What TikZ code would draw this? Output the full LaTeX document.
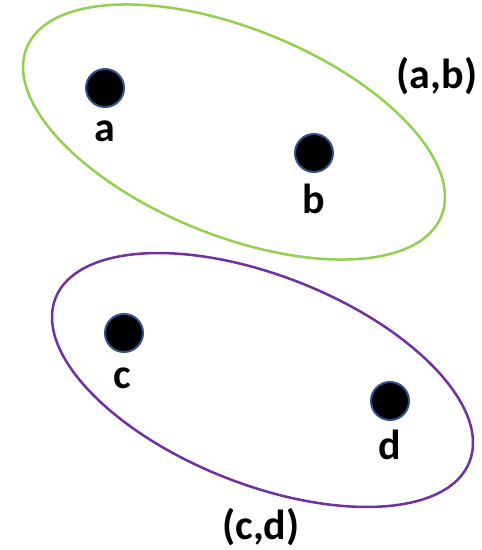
\documentclass[tikz,border=0pt]{standalone}
\usepackage{fontspec}
\setmainfont{Carlito}
\definecolor{grn}{HTML}{92D050}
\definecolor{prp}{HTML}{7030A0}
\definecolor{dotedge}{HTML}{2F528F}
\begin{document}
\begin{tikzpicture}[x=1pt,y=1pt,
  dot/.style={circle,fill=black,draw=dotedge,line width=2pt,minimum size=38pt,inner sep=0pt},
  lbl/.style={inner sep=0pt,font=\fontsize{42}{48}\selectfont\bfseries},
  grp/.style={line width=2.5pt}]
\useasboundingbox (0,0) rectangle (482,-550);
\draw[grp,draw=grn,rotate around={-22.1:(234,-132)}] (234,-132) ellipse [x radius=223.8, y radius=103.4];
\draw[grp,draw=prp,rotate around={-21.6:(262.5,-380)}] (262.5,-380) ellipse [x radius=222.6, y radius=104.3];
\node[dot] (a) at (105,-88) {};
\node[dot] (b) at (314,-153) {};
\node[dot] (c) at (124,-333) {};
\node[dot] (d) at (390,-401) {};
\node[lbl] (la) at (105,-131) {a};
\node[lbl] (lb) at (314,-199) {b};
\node[lbl] (lc) at (122,-378) {c};
\node[lbl] (ld) at (390,-445) {d};
\node[lbl] (lab) at (437,-76) {(a,b)};
\node[lbl] (lcd) at (261,-527) {(c,d)};
\end{tikzpicture}
\end{document}
